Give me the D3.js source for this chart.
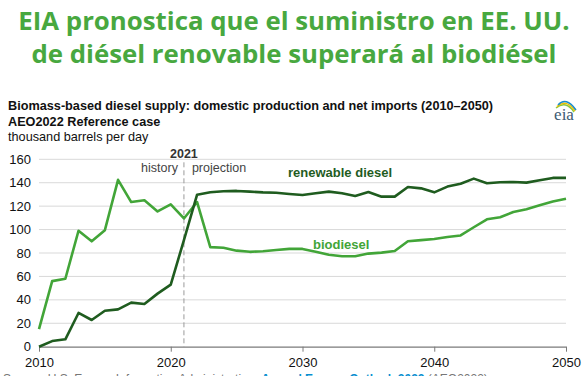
<!DOCTYPE html>
<html lang="es">
<head>
<meta charset="UTF-8">
<title>diesel</title>
<script src="https://cdn.jsdelivr.net/npm/d3@7"></script>
<style>
	body { margin: 0; background: #fff; }
	svg { display: block; }
</style>
</head>
<body>
<div id="viz"></div>
<script>
	// data (thousand barrels per day)
	var years = d3.range(2010, 2051);
	var biodiesel = [15, 56, 58, 99, 90, 99.5, 142.5, 123.5, 125, 115.5, 121.5, 109.5, 123.5,
		85, 84.5, 82, 81, 81.5, 82.5, 83.5, 83.5, 81, 78.5, 77.2, 77.2, 79.5, 80.3, 81.7,
		90, 91, 92, 93.7, 95, 102, 108.8, 110.5, 115, 117.3, 120.7, 124, 126.4];
	var renewable = [0, 4.8, 6.3, 28.8, 22.8, 30.7, 31.9, 37.6, 36.4, 45.3, 53, 91, 129.8,
		131.8, 132.7, 133, 132.4, 131.8, 131.5, 130.4, 129.5, 131, 132.4, 131, 128.7, 132.1, 128.1, 128.1,
		136.4, 135.2, 131.8, 136.7, 139.2, 143.5, 139.5, 140.4, 140.6, 140.1, 142.1, 144.1, 144.1];
	var yTicks = [0, 20, 40, 60, 80, 100, 120, 140, 160];
	var xTicks = [2010, 2020, 2030, 2040, 2050];
	var titleLines = ["EIA pronostica que el suministro en EE. UU.", "de diésel renovable superará al biodiésel"];

	var W = 588, H = 376;
	var dark = "#1f5c1f", light = "#42a538";

	var svg = d3.select("#viz").append("svg")
		.attr("width", W).attr("height", H);

	// headline
	svg.selectAll(".headline")
		.data(titleLines)
		.enter().append("text")
		.attr("class", "headline")
		.attr("x", W / 2)
		.attr("y", function (d, i) { return 30 + i * 33; })
		.attr("text-anchor", "middle")
		.style("font-family", "'Open Sans', sans-serif")
		.style("font-weight", "bold")
		.style("font-size", "25.8px")
		.style("fill", "#48a83f")
		.text(function (d) { return d; });

	var txt = svg.append("g").style("font-family", "'Liberation Sans', Arial, sans-serif").style("fill", "#111");
	txt.append("text").attr("x", 8).attr("y", 110).style("font-weight", "bold").style("font-size", "12.7px")
		.text("Biomass-based diesel supply: domestic production and net imports (2010\u20132050)");
	txt.append("text").attr("x", 8).attr("y", 126).style("font-weight", "bold").style("font-size", "12.7px")
		.text("AEO2022 Reference case");
	txt.append("text").attr("x", 8).attr("y", 141).style("font-size", "12.7px")
		.text("thousand barrels per day");

	// eia logo
	var logo = svg.append("g").attr("transform", "translate(564,120)");
	logo.append("text").attr("text-anchor", "middle")
		.style("font-family", "'Liberation Serif', serif").style("font-size", "17px").style("fill", "#3d5a73")
		.text("eia");
	[["#8cc63f", 7], ["#f2c100", 9], ["#1a8ccc", 11]].forEach(function (a, i) {
		logo.append("path")
			.attr("d", "M" + (-8 + i) + "," + (-12 - i * 1.5) + " Q2," + (-20 - i * 2) + " " + (10 + i) + "," + (-8 - i))
			.attr("fill", "none").attr("stroke", a[0]).attr("stroke-width", 1.5);
	});

	// scales
	var x = d3.scaleLinear().domain([2010, 2050]).range([39, 566]);
	var y = d3.scaleLinear().domain([0, 160]).range([346.7, 159.3]);

	var g = svg.append("g");

	g.selectAll(".grid")
		.data(yTicks.filter(function (d) { return d > 0; }))
		.enter().append("line")
		.attr("x1", x(2010)).attr("x2", x(2050))
		.attr("y1", function (d) { return y(d); })
		.attr("y2", function (d) { return y(d); })
		.attr("stroke", "#d9d9d9").attr("stroke-width", 1);

	g.selectAll(".ylab")
		.data(yTicks)
		.enter().append("text")
		.attr("x", 31)
		.attr("y", function (d) { return y(d) + 4.5; })
		.attr("text-anchor", "end")
		.style("font-family", "'Liberation Sans', Arial, sans-serif")
		.style("font-size", "13px").style("fill", "#111")
		.text(function (d) { return d; });

	// x axis
	var xAxis = g.append("g")
		.attr("transform", "translate(0," + y(0) + ")")
		.call(d3.axisBottom(x).tickValues(xTicks).tickFormat(d3.format("d")).tickSize(5).tickSizeOuter(0));
	xAxis.select(".domain").attr("stroke", "#7a7a7a").attr("stroke-width", 1.3);
	xAxis.selectAll(".tick line").attr("stroke", "#7a7a7a");
	xAxis.selectAll(".tick text")
		.attr("dy", "0.95em")
		.style("font-family", "'Liberation Sans', Arial, sans-serif")
		.style("font-size", "13px").style("fill", "#111");

	// history / projection divider
	g.append("line")
		.attr("x1", x(2021)).attr("x2", x(2021))
		.attr("y1", y(160) + 3).attr("y2", y(0))
		.attr("stroke", "#9a9a9a").attr("stroke-dasharray", "5,3");
	g.append("text").attr("x", x(2021)).attr("y", 158).attr("text-anchor", "middle")
		.style("font-family", "'Liberation Sans', Arial, sans-serif").style("font-weight", "bold")
		.style("font-size", "12.5px").style("fill", "#333").text("2021");
	g.append("text").attr("x", x(2021) - 6).attr("y", 172).attr("text-anchor", "end")
		.style("font-family", "'Liberation Sans', Arial, sans-serif")
		.style("font-size", "12.5px").style("fill", "#444").text("history");
	g.append("text").attr("x", x(2021) + 8).attr("y", 172)
		.style("font-family", "'Liberation Sans', Arial, sans-serif")
		.style("font-size", "12.5px").style("fill", "#444").text("projection");

	// series
	var line = d3.line()
		.x(function (d, i) { return x(years[i]); })
		.y(function (d) { return y(d); });

	g.append("path").datum(biodiesel)
		.attr("d", line).attr("fill", "none")
		.attr("stroke", light).attr("stroke-width", 2.6).attr("stroke-linejoin", "round");
	g.append("path").datum(renewable)
		.attr("d", line).attr("fill", "none")
		.attr("stroke", dark).attr("stroke-width", 2.6).attr("stroke-linejoin", "round");

	g.append("text").attr("x", 288).attr("y", 177)
		.style("font-family", "'Liberation Sans', Arial, sans-serif").style("font-weight", "bold")
		.style("font-size", "13px").style("fill", dark).text("renewable diesel");
	g.append("text").attr("x", 313).attr("y", 249)
		.style("font-family", "'Liberation Sans', Arial, sans-serif").style("font-weight", "bold")
		.style("font-size", "13px").style("fill", light).text("biodiesel");

	// source line (cut at the bottom edge, as in the original)
	var src = svg.append("text").attr("x", 3).attr("y", 383)
		.style("font-family", "'Liberation Sans', Arial, sans-serif").style("font-size", "12px").style("fill", "#777");
	src.append("tspan").text("Source: U.S. Energy Information Administration, ");
	src.append("tspan").style("font-weight", "bold").style("fill", "#0a8fd0").text("Annual Energy Outlook 2022");
	src.append("tspan").text(" (AEO2022)");
</script>
</body>
</html>
